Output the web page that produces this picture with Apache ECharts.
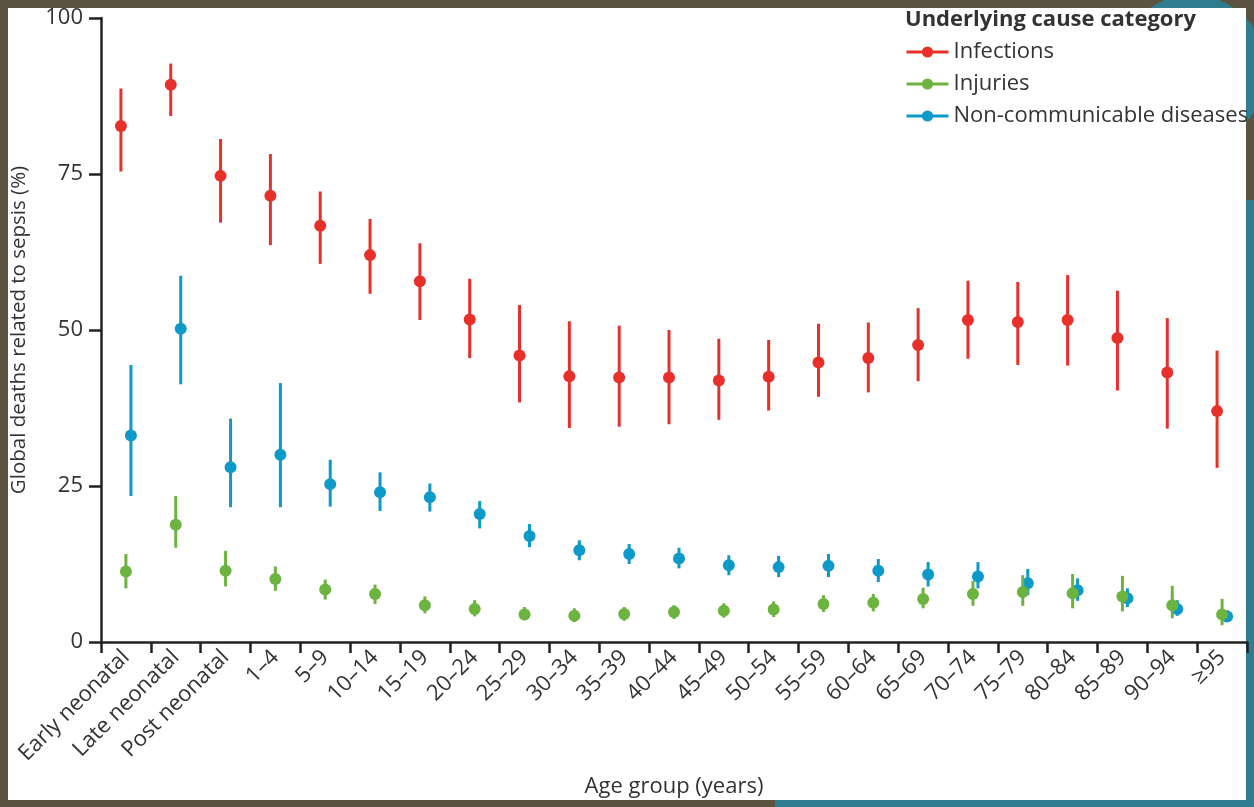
<!DOCTYPE html>
<html>
<head>
<meta charset="utf-8">
<script src="https://cdn.jsdelivr.net/npm/echarts@6/dist/echarts.min.js"></script>
<style>
  html, body { margin: 0; padding: 0; background: #5b5240; }
  #wrap { position: relative; width: 1254px; height: 807px; overflow: hidden; background: #5b5240; }
  .deco { position: absolute; }
  #main { position: absolute; left: 0; top: 0; width: 1254px; height: 807px; }
</style>
</head>
<body>
<div id="wrap">
  <div class="deco" style="left:1117px;top:-5px;width:150px;height:150px;border-radius:50%;background:#2f7c8f;"></div>
  <div class="deco" style="left:1240px;top:200px;width:14px;height:607px;background:#2f7c8f;"></div>
  <div class="deco" style="left:775px;top:795px;width:479px;height:12px;background:#2f7c8f;"></div>
  <div class="deco" style="left:8px;top:8px;width:1238px;height:792px;background:#ffffff;"></div>
  <div id="main"></div>
</div>
<script>
// 年龄组
const ageGroups = ['Early neonatal', 'Late neonatal', 'Post neonatal', '1–4', '5–9', '10–14', '15–19',
  '20–24', '25–29', '30–34', '35–39', '40–44', '45–49', '50–54', '55–59', '60–64', '65–69',
  '70–74', '75–79', '80–84', '85–89', '90–94', '≥95'];

// Infections: 估计值, 下限, 上限
const infMean = [82.7, 89.3, 74.7, 71.5, 66.7, 62.0, 57.8, 51.7, 45.9, 42.6, 42.4, 42.4, 41.9, 42.5, 44.8, 45.5, 47.6, 51.6, 51.3, 51.6, 48.7, 43.2, 37.0];
const infLow = [75.4, 84.3, 67.2, 63.6, 60.6, 55.8, 51.6, 45.5, 38.4, 34.3, 34.5, 34.9, 35.6, 37.1, 39.3, 40.0, 41.8, 45.4, 44.4, 44.3, 40.3, 34.2, 27.9];
const infHigh = [88.7, 92.7, 80.6, 78.2, 72.2, 67.8, 63.9, 58.2, 54.0, 51.4, 50.7, 50.0, 48.6, 48.4, 51.0, 51.2, 53.5, 57.9, 57.7, 58.8, 56.3, 51.9, 46.7];

// Injuries
const injMean = [11.3, 18.8, 11.4, 10.1, 8.4, 7.7, 5.9, 5.3, 4.4, 4.2, 4.5, 4.8, 5.0, 5.2, 6.1, 6.3, 6.9, 7.7, 8.0, 7.8, 7.3, 5.9, 4.4];
const injLow = [8.6, 15.1, 8.9, 8.2, 6.8, 6.1, 4.6, 4.1, 3.5, 3.2, 3.4, 3.7, 3.9, 4.0, 4.8, 4.9, 5.4, 5.8, 5.8, 5.4, 4.9, 3.8, 2.7];
const injHigh = [14.1, 23.4, 14.6, 12.1, 10.0, 9.2, 7.3, 6.7, 5.6, 5.4, 5.6, 5.9, 6.2, 6.5, 7.5, 7.7, 8.7, 9.8, 10.7, 10.9, 10.6, 9.0, 6.9];

// Non-communicable diseases
const ncdMean = [33.1, 50.2, 28.0, 30.0, 25.3, 24.0, 23.2, 20.5, 17.0, 14.7, 14.1, 13.4, 12.3, 12.0, 12.2, 11.4, 10.8, 10.5, 9.4, 8.3, 7.0, 5.3, 4.1];
const ncdLow = [23.4, 41.3, 21.6, 21.6, 21.7, 21.0, 20.9, 18.2, 15.2, 13.1, 12.5, 11.8, 10.7, 10.4, 10.4, 9.6, 8.9, 8.6, 7.5, 6.6, 5.6, 4.2, 3.3];
const ncdHigh = [44.4, 58.7, 35.8, 41.5, 29.2, 27.2, 25.4, 22.6, 18.9, 16.3, 15.7, 15.1, 13.9, 13.8, 14.1, 13.3, 12.8, 12.8, 11.7, 10.2, 8.6, 6.7, 5.1];

const yTicks = [0, 25, 50, 75, 100];

const FONT = 'Open Sans';
const TXT = '#333';

const causes = [
  { name: 'Infections', color: '#e8302a', mean: infMean, low: infLow, high: infHigh, dx: -5 },
  { name: 'Injuries', color: '#6db33f', mean: injMean, low: injLow, high: injHigh, dx: 0 },
  { name: 'Non-communicable diseases', color: '#0e9ac8', mean: ncdMean, low: ncdLow, high: ncdHigh, dx: 5 }
];

function toRows(c) {
  return c.mean.map((v, i) => [i, v, c.low[i], c.high[i]]);
}

function makeRender(color, dx) {
  return function (params, api) {
    const p = api.coord([api.value(0), api.value(1)]);
    const lo = api.coord([api.value(0), api.value(2)]);
    const hi = api.coord([api.value(0), api.value(3)]);
    const x = p[0] + dx;
    return {
      type: 'group',
      children: [
        { type: 'line', shape: { x1: x, y1: lo[1], x2: x, y2: hi[1] }, style: { stroke: color, lineWidth: 3 } },
        { type: 'circle', shape: { cx: x, cy: p[1], r: 6 }, style: { fill: color } }
      ]
    };
  };
}

const chart = echarts.init(document.getElementById('main'));

// 图例用的空折线系列（只为图例图标）
const legendSeries = causes.map(c => ({
  name: c.name,
  type: 'line',
  data: [],
  color: c.color,
  symbol: 'circle',
  symbolSize: 13,
  lineStyle: { width: 3, color: c.color },
  itemStyle: { color: c.color }
}));

// 绘制顺序：NCD 在下，Injuries 在上
const drawOrder = [causes[0], causes[2], causes[1]];
const barSeries = drawOrder.map(c => ({
  name: c.name,
  type: 'custom',
  color: c.color,
  renderItem: makeRender(c.color, c.dx),
  encode: { x: 0, y: 1 },
  data: toRows(c)
}));

const option = {
  animation: false,
  backgroundColor: 'transparent',
  textStyle: { fontFamily: FONT },
  title: {
    text: 'Underlying cause category',
    left: 900,
    top: 4,
    textStyle: { fontFamily: FONT, fontSize: 22, fontWeight: 'bold', color: '#333' }
  },
  legend: {
    orient: 'vertical',
    left: 905,
    top: 40,
    padding: 0,
    itemWidth: 42,
    itemHeight: 14,
    itemGap: 8,
    lineStyle: { width: 3 },
    data: causes.map(c => c.name),
    textStyle: { fontFamily: FONT, fontSize: 22, color: TXT, lineHeight: 24 }
  },
  grid: { left: 101, right: 7, top: 18, bottom: 165 },
  xAxis: {
    type: 'category',
    data: ageGroups,
    name: 'Age group (years)',
    nameLocation: 'middle',
    nameGap: 134,
    nameTextStyle: { fontFamily: FONT, fontSize: 22, color: TXT },
    axisLine: { lineStyle: { color: '#222', width: 2.5 } },
    axisTick: { show: true, alignWithLabel: false, length: 11, lineStyle: { color: '#222', width: 2.5 } },
    axisLabel: { rotate: 45, margin: 12, fontFamily: FONT, fontSize: 22, color: TXT, interval: 0 },
    splitLine: { show: false }
  },
  yAxis: {
    type: 'value',
    min: yTicks[0],
    max: yTicks[yTicks.length - 1],
    interval: 25,
    name: 'Global deaths related to sepsis (%)',
    nameLocation: 'middle',
    nameGap: 71,
    nameTextStyle: { fontFamily: FONT, fontSize: 20.5, color: TXT },
    axisLine: { show: true, lineStyle: { color: '#222', width: 2.5 } },
    axisTick: { show: true, length: 12, lineStyle: { color: '#222', width: 2.5 } },
    axisLabel: { margin: 18, fontFamily: FONT, fontSize: 22, color: TXT },
    splitLine: { show: false }
  },
  series: legendSeries.concat(barSeries)
};

chart.setOption(option);
</script>
</body>
</html>
